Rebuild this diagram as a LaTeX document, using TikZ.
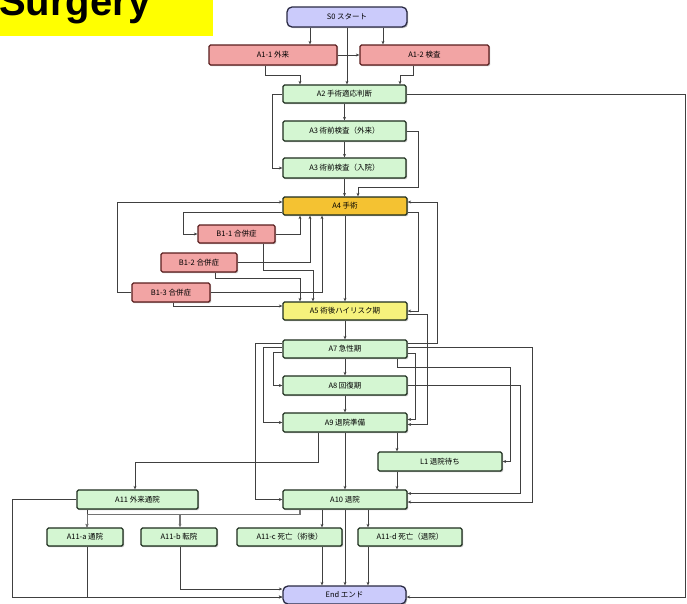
\documentclass[tikz,border=0pt]{standalone}
\usepackage{fontspec}
\setmainfont{Liberation Sans}
\newfontfamily\jpf{Noto Sans CJK JP}
\usetikzlibrary{arrows.meta,shadows}
\definecolor{gfill}{HTML}{D4F6D2}
\definecolor{gline}{HTML}{1E2E1E}
\definecolor{pfill}{HTML}{F2A4A4}
\definecolor{pline}{HTML}{5A1E1E}
\definecolor{ofill}{HTML}{F4C232}
\definecolor{yfill}{HTML}{F6F27C}
\definecolor{lfill}{HTML}{CBCBFB}
\definecolor{lline}{HTML}{2A2A44}
\definecolor{ttl}{HTML}{FFFF00}
\begin{document}
\begin{tikzpicture}[x=1pt,y=-1pt,
  bx/.style={rectangle, rounded corners=1.5pt, line width=1.3pt, inner sep=0pt,
    font=\jpf\fontsize{7.5}{8}\selectfont,
    drop shadow={shadow xshift=1.2pt,shadow yshift=-1.2pt,fill=black!55}},
  gbox/.style={bx, draw=gline, fill=gfill},
  pbox/.style={bx, draw=pline, fill=pfill},
  obox/.style={bx, draw=gline, fill=ofill},
  ybox/.style={bx, draw=gline, fill=yfill},
  lbox/.style={bx, rounded corners=5pt, draw=lline, fill=lfill},
  conn/.style={draw=black!75, line width=0.9pt, -{Stealth[length=3.5pt,width=3pt]}},
  wide/.style={minimum width=123pt, minimum height=18pt}
]
\useasboundingbox (0,0) rectangle (687,603);
\clip (0,0) rectangle (687,603);
\fill[white] (0,0) rectangle (687,603);

% title
\fill[ttl] (0,0) rectangle (213,36);
\node[anchor=base west, inner sep=0pt, font=\fontsize{40}{42}\selectfont\bfseries] (title) at (-1,15) {Surgery};

% nodes
\node[lbox, minimum width=120pt, minimum height=20pt] (start) at (347,17) {S0 スタート};
\node[pbox, minimum width=128pt, minimum height=20pt] (a11) at (273,55) {A1-1 外来};
\node[pbox, minimum width=129pt, minimum height=20pt] (a12) at (424.5,55) {A1-2 検査};
\node[gbox, wide] (a2) at (344.5,94) {A2 手術適応判断};
\node[gbox, wide, minimum height=20pt] (a3) at (344.5,131) {A3 術前検査（外来）};
\node[gbox, wide, minimum height=20pt] (a3b) at (344.5,168) {A3 術前検査（入院）};
\node[obox, wide, minimum width=124pt] (a4) at (345,206) {A4 手術};
\node[pbox, minimum width=77pt, minimum height=18pt] (b1) at (236.5,234) {B1-1 合併症};
\node[pbox, minimum width=76pt, minimum height=19pt] (b2) at (199,262.5) {B1-2 合併症};
\node[pbox, minimum width=78pt, minimum height=19pt] (b3) at (171,292.5) {B1-3 合併症};
\node[ybox, wide, minimum width=124pt] (a5) at (345,311) {A5 術後ハイリスク期};
\node[gbox, wide, minimum width=124pt] (a7) at (345,349) {A7 急性期};
\node[gbox, wide, minimum width=124pt, minimum height=19pt] (a8) at (345,385.5) {A8 回復期};
\node[gbox, wide, minimum width=124pt, minimum height=19pt] (a9) at (345,422.5) {A9 退院準備};
\node[gbox, wide, minimum width=124pt, minimum height=19pt] (l1) at (440,461.5) {L1 退院待ち};
\node[gbox, wide, minimum width=124pt, minimum height=19pt] (a10) at (345,499.5) {A10 退院};
\node[gbox, minimum width=121pt, minimum height=19pt] (a11o) at (137.5,499.5) {A11 外来通院};
\node[gbox, minimum width=76pt, minimum height=18pt] (a11a) at (85,537) {A11-a 通院};
\node[gbox, minimum width=76pt, minimum height=18pt] (a11b) at (179,537) {A11-b 転院};
\node[gbox, minimum width=105pt, minimum height=18pt] (a11c) at (289.5,537) {A11-c 死亡（術後）};
\node[gbox, minimum width=104pt, minimum height=18pt] (a11d) at (410,537) {A11-d 死亡（退院）};
\node[lbox, minimum width=123pt, minimum height=18pt] (end) at (344.5,595) {End エンド};

% connectors
\draw[conn] ([xshift=-37pt]start.south) -- ([xshift=37pt]a11.north);
\draw[conn] ([xshift=36pt]start.south) -- ([xshift=-41.5pt]a12.north);
\draw[conn] (start.south) -- (start.south |- a2.north);
\draw[conn] (a11.east) -- (a12.west);
\draw[conn] ([xshift=-8pt]a11.south) |- (300,75) -- ([xshift=-44.5pt]a2.north);
\draw[conn] ([xshift=-11.5pt]a12.south) |- (400,75) -- ([xshift=55.5pt]a2.north);
\draw[conn] (a2.south) -- (a3.north);
\draw[conn] (a2.east) -- (685,94) |- ([yshift=-2pt]end.east);
\draw[conn] (a2.west) -- (272,94) |- (a3b.west);
\draw[conn] (a3.south) -- (a3b.north);
\draw[conn] (a3.east) -- (418,131) |- (358,187) -- ([xshift=13pt]a4.north);
\draw[conn] (a3b.south) -- (a3b.south |- a4.north);

\draw[conn] (b3.west) -- (117,292.5) |- ([yshift=4pt]a4.west);
\draw[conn] ([yshift=-6pt]a4.west) -- (183,212) |- (b1.west);
\draw[conn] (b1.east) -- (300,234) -- ([xshift=-45pt]a4.south);
\draw[conn] ([xshift=26.5pt]b1.south) |- (313,270) -- ([xshift=-32pt]a5.north);
\draw[conn] (b2.east) -- (310,262.5) -- ([xshift=-35pt]a4.south);
\draw[conn] ([xshift=16pt]b2.south) |- (300,278) -- ([xshift=-45pt]a5.north);
\draw[conn] (b3.east) -- (322,292.5) -- ([xshift=-23pt]a4.south);
\draw[conn] ([xshift=2pt]b3.south) |- ([yshift=5pt]a5.west);
\draw[conn] (a4.south) -- (a4.south |- a5.north);
\draw[conn] ([yshift=-6pt]a4.east) -- (418,212) |- (a5.east);
\draw[conn] ([yshift=6pt]a7.east) -- (437,343) |- ([yshift=4pt]a4.east);

\draw[conn] (a5.south) -- (a5.south |- a7.north);
\draw[conn] ([yshift=-3pt]a5.east) -- (427,314) |- ([yshift=-2pt]a9.east);
\draw[conn] ([yshift=-4pt]a7.east) -- (415,353) |- ([yshift=3pt]a9.east);
\draw[conn] ([yshift=6pt]a7.west) -- (255,343) |- (a10.west);
\draw[conn] ([yshift=2pt]a7.west) -- (263,347) |- (a9.west);
\draw[conn] ([yshift=-3pt]a7.west) -- (273,352) |- (a8.west);
\draw[conn] (a7.south) -- (a7.south |- a8.north);
\draw[conn] (a8.south) -- (a8.south |- a9.north);
\draw[conn] ([xshift=52pt]a7.south) |- (510,367) |- (l1.east);
\draw[conn] ([yshift=2pt]a7.east) -- (532,347) |- ([yshift=-2.5pt]a10.east);
\draw[conn] (a8.east) -- (520,385.5) |- ([yshift=6pt]a10.east);
\draw[conn] (a9.south) -- (a9.south |- a10.north);
\draw[conn] ([xshift=52pt]a9.south) -- ([xshift=-43pt]l1.north);
\draw[conn] ([xshift=-43pt]l1.south) -- ([xshift=52pt]a10.north);
\draw[conn] ([xshift=-27pt]a9.south) |- (135,462) -- ([xshift=-2.5pt]a11o.north);

\draw[conn] (a11o.west) -- (12,499.5) |- ([yshift=-2pt]end.west);
\draw[conn] ([xshift=-50.5pt]a11o.south) -- ([xshift=2pt]a11a.north);
\draw[conn, draw=black!55, line width=1.6pt] ([xshift=-45pt]a10.south) |- (180,514.5) -- ([xshift=1pt]a11b.north);
\draw[conn, draw=black!55] (180,514.5) -- (87,514.5) -- ([xshift=2pt]a11a.north);
\draw[conn] ([xshift=-23pt]a10.south) -- ([xshift=32.5pt]a11c.north);
\draw[conn] ([xshift=32.5pt]a11c.south) -- ([xshift=-22.5pt]end.north);
\draw[conn] (a10.south) -- (a10.south |- end.north);
\draw[conn] ([xshift=23pt]a10.south) -- ([xshift=-42pt]a11d.north);
\draw[conn] ([xshift=-42pt]a11d.south) -- ([xshift=23.5pt]end.north);
\draw[conn] ([xshift=2pt]a11a.south) |- ([yshift=-2pt]end.west);
\draw[conn] ([xshift=1pt]a11b.south) |- ([yshift=6pt]end.west);
\end{tikzpicture}
\end{document}
